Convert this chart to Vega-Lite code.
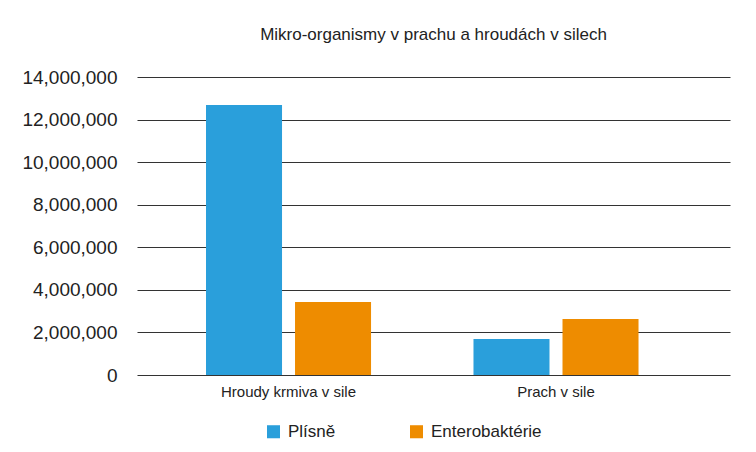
{
  "$schema": "https://vega.github.io/schema/vega-lite/v6.json",
  "autosize": "none",
  "width": 593,
  "height": 298,
  "padding": {"left": 137, "top": 77, "right": 26, "bottom": 77},
  "background": "white",
  "title": {
    "text": "Mikro-organismy v prachu a hroudách v silech",
    "font": "Liberation Sans",
    "fontSize": 17,
    "fontWeight": "normal",
    "color": "#222222",
    "anchor": "middle",
    "offset": 24
  },
  "data": {
    "values": [
      {"misto": "Hroudy krmiva v sile", "typ": "Plísně", "pocet": 12680000},
      {"misto": "Hroudy krmiva v sile", "typ": "Enterobaktérie", "pocet": 3430000},
      {"misto": "Prach v sile", "typ": "Plísně", "pocet": 1690000},
      {"misto": "Prach v sile", "typ": "Enterobaktérie", "pocet": 2630000}
    ]
  },
  "mark": {"type": "bar"},
  "encoding": {
    "x": {
      "field": "misto",
      "type": "nominal",
      "sort": null,
      "title": null,
      "scale": {"paddingInner": 0.383, "paddingOuter": 0.3, "align": 0.43},
      "axis": {
        "labelAngle": 0,
        "labelFont": "Liberation Sans",
        "labelFontSize": 15,
        "labelColor": "#222222",
        "labelPadding": 9,
        "ticks": false,
        "domain": false,
        "grid": false
      }
    },
    "xOffset": {
      "field": "typ",
      "type": "nominal",
      "sort": ["Plísně", "Enterobaktérie"],
      "scale": {"paddingInner": 0.146, "paddingOuter": 0}
    },
    "y": {
      "field": "pocet",
      "type": "quantitative",
      "title": null,
      "scale": {"domain": [0, 14000000], "nice": false},
      "axis": {
        "values": [0, 2000000, 4000000, 6000000, 8000000, 10000000, 12000000, 14000000],
        "format": ",d",
        "labelFont": "Liberation Sans",
        "labelFontSize": 19,
        "labelColor": "#222222",
        "labelPadding": 20,
        "ticks": false,
        "domain": false,
        "grid": true,
        "gridColor": "#333333",
        "gridWidth": 1.2,
        "gridOpacity": 1
      }
    },
    "color": {
      "field": "typ",
      "type": "nominal",
      "sort": ["Plísně", "Enterobaktérie"],
      "scale": {"domain": ["Plísně", "Enterobaktérie"], "range": ["#2A9FDB", "#EE8C00"]},
      "legend": {
        "title": null,
        "orient": "none",
        "legendX": 128,
        "legendY": 346,
        "direction": "horizontal",
        "symbolType": "square",
        "symbolSize": 170,
        "symbolStrokeWidth": 0,
        "labelFont": "Liberation Sans",
        "labelFontSize": 17,
        "labelColor": "#222222",
        "labelOffset": 6,
        "columnPadding": 72
      }
    }
  },
  "config": {
    "view": {"stroke": null}
  }
}
